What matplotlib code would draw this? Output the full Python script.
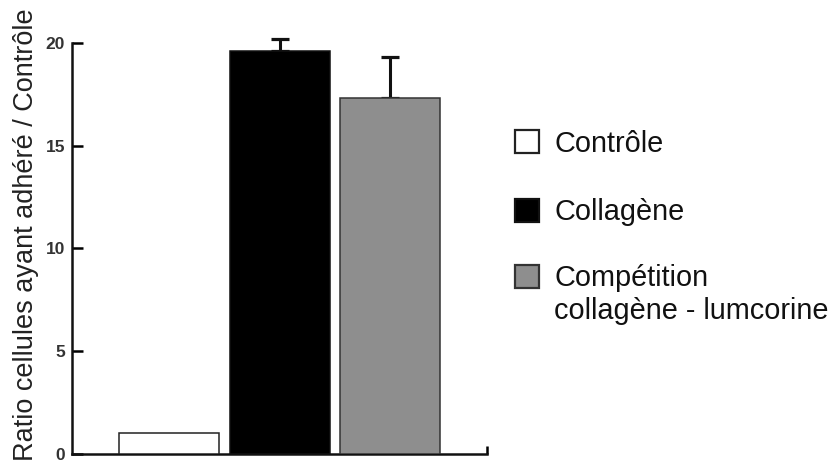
import matplotlib
matplotlib.use("Agg")
import matplotlib.pyplot as plt
from matplotlib.patches import Rectangle

plt.rcParams['font.family'] = ['Liberation Sans', 'DejaVu Sans']

# Data
categories = ["Contrôle", "Collagène", "Compétition\ncollagène - lumcorine"]
values = [1.0, 19.6, 17.3]
errors = [0.0, 0.6, 2.0]
colors = ["white", "black", "#8e8e8e"]
edgecolors = ["#222222", "#111111", "#333333"]
yticks = [0, 5, 10, 15, 20]
ylabel = "Ratio cellules ayant adhéré / Contrôle"

W, H = 832, 461
fig = plt.figure(figsize=(W / 100, H / 100), dpi=100)
ax = fig.add_axes([72 / W, (H - 454) / H, 415 / W, 411 / H])

x = list(range(len(values)))
ax.bar(x, values, width=0.907, color=colors, edgecolor=edgecolors,
       linewidth=1.1, zorder=3)

# One-sided (upward) error bars, drawn behind the bars
ex = [xi for xi, e in zip(x, errors) if e > 0]
ev = [v for v, e in zip(values, errors) if e > 0]
ee = [e for e in errors if e > 0]
eb = ax.errorbar(ex, ev, yerr=[[0] * len(ee), ee], fmt='none', ecolor='#111111',
                 elinewidth=2.2, capsize=6.5, capthick=2.3, zorder=2)
for artist in eb.lines[1] + eb.lines[2]:
    artist.set_clip_on(False)

ax.set_xlim(-0.884, 2.88)
ax.set_ylim(0, 20)
ax.set_yticks(yticks)
ax.set_yticklabels([str(t) for t in yticks], fontsize=12.5, color='#333333',
                   fontweight='bold')
ax.set_xticks([2.88])
ax.set_xticklabels([''])
ax.tick_params(axis='y', direction='in', length=8, width=1.8, pad=5)
ax.tick_params(axis='x', direction='in', length=6, width=1.8)
for s in ['top', 'right']:
    ax.spines[s].set_visible(False)
for s in ['left', 'bottom']:
    ax.spines[s].set_linewidth(1.8)
    ax.spines[s].set_color('#111111')

fig.text(33 / W, 1 - 235 / H, ylabel, rotation=90, rotation_mode='anchor',
         ha='center', va='baseline', fontsize=19.5, color='#222222')

# Legend: square swatch beside the first line of each label
swatch_bottoms = [153, 222, 288]
text_baselines = [152, 220, 319]   # baseline of each label's last line
for lab, c, ec, yb, tb in zip(categories, colors, edgecolors,
                              swatch_bottoms, text_baselines):
    fig.patches.append(Rectangle((515 / W, 1 - yb / H), 24 / W, 23 / H,
                                 transform=fig.transFigure, facecolor=c,
                                 edgecolor=ec, linewidth=1.6))
    fig.text(554 / W, 1 - tb / H, lab, ha='left', va='baseline',
             fontsize=20.8, color='#111111', linespacing=1.23)

fig.savefig("out.png", dpi=100)
